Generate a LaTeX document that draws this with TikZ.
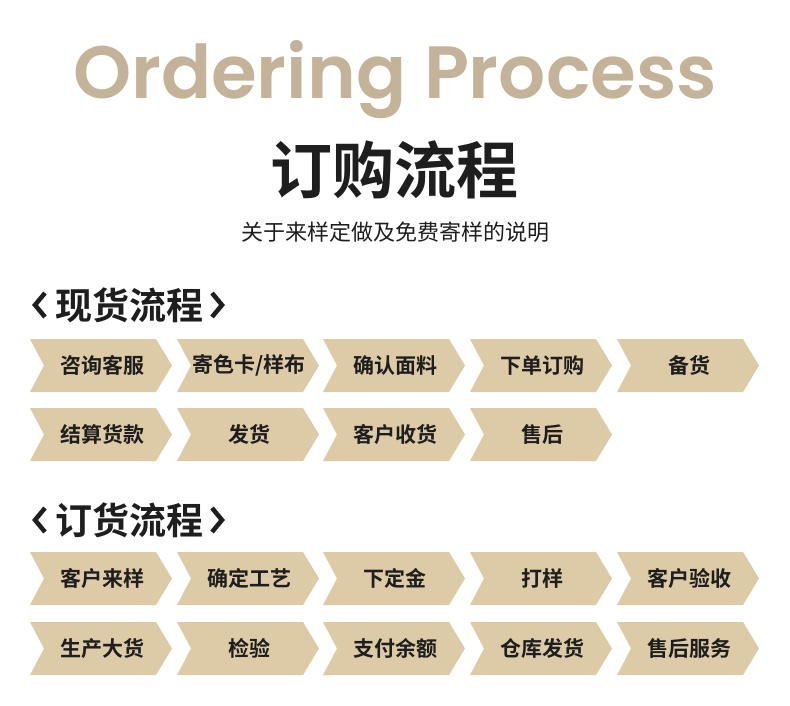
\documentclass[tikz,border=0pt]{standalone}
\usepackage{fontspec}
\newfontfamily\cjk{Noto Sans CJK SC Bold}
\newfontfamily\cjkr{Noto Sans CJK SC}
\newfontfamily\pop{Poppins SemiBold}
\definecolor{tan}{HTML}{DDCAA7}
\definecolor{title}{HTML}{C4B398}
\definecolor{ink}{HTML}{1E1E1E}
\begin{document}
\begin{tikzpicture}[x=1pt,y=-1pt,
  chev/.style={fill=tan,draw=none},
  lbl/.style={font=\cjk\fontsize{21}{21}\selectfont,text=ink},
  brk/.style={line width=4.5pt,draw=ink,line join=miter}]
\useasboundingbox (0,0) rectangle (790,706);
\node[text=title,font=\pop\fontsize{74}{74}\selectfont] (t1) at (395,80) {Ordering Process};
\node[text=ink,font=\cjk\fontsize{62}{62}\selectfont] (t2) at (394,170) {订购流程};
\node[text=ink,font=\cjkr\fontsize{22}{22}\selectfont] (t3) at (395,232) {关于来样定做及免费寄样的说明};
\foreach \y/\t in {305/现货流程, 520/订货流程}{
  \node[text=ink,font=\cjk\fontsize{37}{37}\selectfont,anchor=west] (h\y) at (52,\y) {\t};
  \draw[brk] (45,\y-12) -- (35,\y) -- (45,\y+12);
  \draw[brk] (212,\y-12) -- (222,\y) -- (212,\y+12);
}
\def\chevron#1#2#3#4{%
  \fill[chev] (#1,#2) -- (#1+126,#2) -- (#1+142,#2+26.5) -- (#1+126,#2+53) -- (#1,#2+53) -- (#1+14,#2+26.5) -- cycle;
  \node[lbl] (#4) at (#1+72,#2+26.5) {#3};}
\chevron{30}{339}{咨询客服}{a1}
\chevron{177}{339}{寄色卡/样布}{a2}
\chevron{323}{339}{确认面料}{a3}
\chevron{470}{339}{下单订购}{a4}
\chevron{617}{339}{备货}{a5}
\chevron{30}{408}{结算货款}{b1}
\chevron{177}{408}{发货}{b2}
\chevron{323}{408}{客户收货}{b3}
\chevron{470}{408}{售后}{b4}
\chevron{30}{552}{客户来样}{c1}
\chevron{177}{552}{确定工艺}{c2}
\chevron{323}{552}{下定金}{c3}
\chevron{470}{552}{打样}{c4}
\chevron{617}{552}{客户验收}{c5}
\chevron{30}{622}{生产大货}{d1}
\chevron{177}{622}{检验}{d2}
\chevron{323}{622}{支付余额}{d3}
\chevron{470}{622}{仓库发货}{d4}
\chevron{617}{622}{售后服务}{d5}
\end{tikzpicture}
\end{document}
